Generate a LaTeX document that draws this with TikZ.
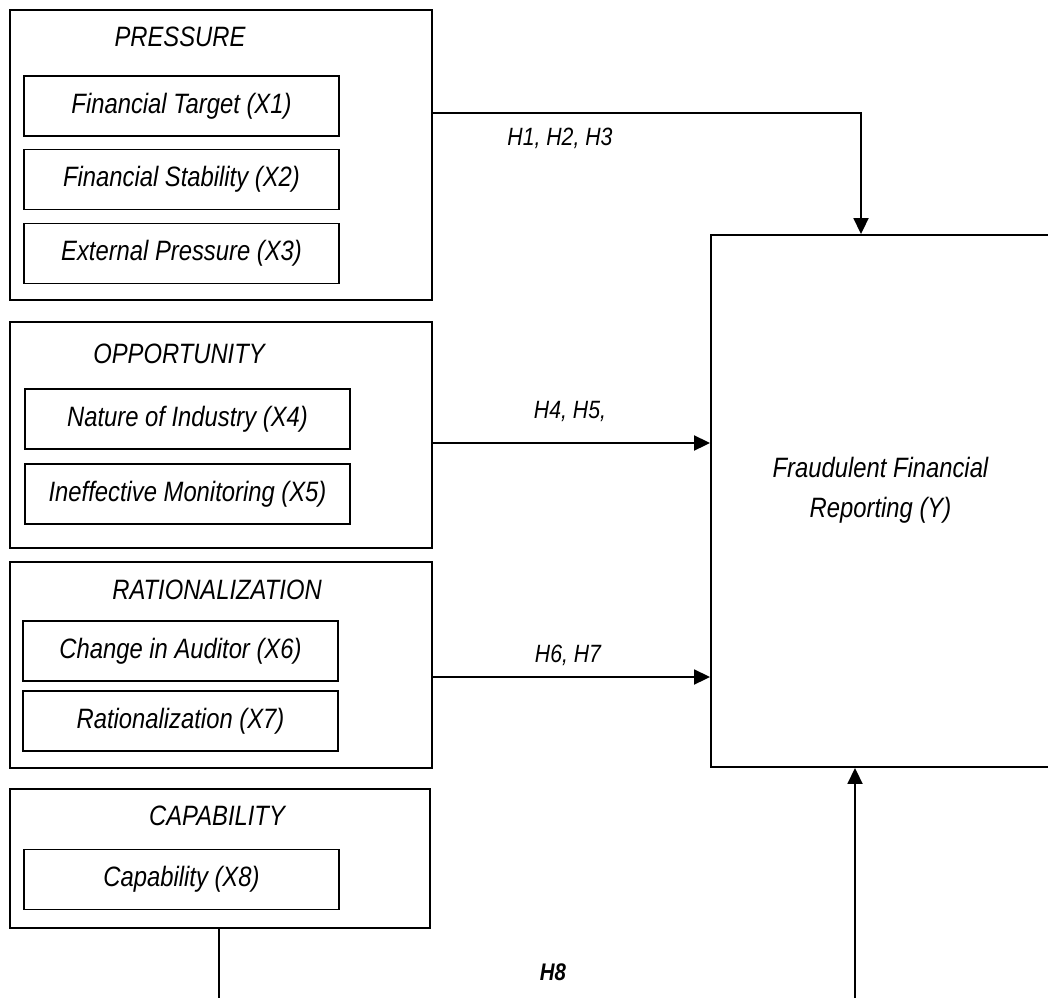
\documentclass[tikz,border=0pt]{standalone}
\usepackage{fontspec}
\setmainfont{Liberation Sans}[FakeStretch=0.85]
\usetikzlibrary{arrows.meta}
\tikzset{
  group/.style={draw,line width=1.9pt,inner sep=0pt},
  item/.style={draw,line width=1.9pt,inner sep=0pt,minimum width=315pt,minimum height=60pt,
    font=\fontsize{28}{32}\selectfont\itshape},
  title/.style={inner sep=0pt,font=\fontsize{28}{32}\selectfont\itshape},
  hyp/.style={inner sep=0pt,font=\fontsize{25}{29}\selectfont\itshape},
  flow/.style={line width=1.9pt,-{Triangle[length=16pt,width=15pt]}},
  link/.style={line width=1.9pt}
}
\begin{document}
\begin{tikzpicture}[x=1pt,y=-1pt]
\useasboundingbox (0,0) rectangle (1048,998);

\node[group,minimum width=422pt,minimum height=290pt] (press) at (221,155) {};
\node[title] (presst) at (180,37) {PRESSURE};
\node[item] (ft) at (181.5,106) {Financial Target (X1)};
\node[item] (fs) at (181.5,179.5) {Financial Stability (X2)};
\node[item] (ep) at (181.5,253.5) {External Pressure (X3)};

\node[group,minimum width=422pt,minimum height=226pt] (opp) at (221,435) {};
\node[title] (oppt) at (179,354) {OPPORTUNITY};
\node[item,minimum width=325pt] (ni) at (187.5,419) {Nature of Industry (X4)};
\node[item,minimum width=325pt] (im) at (187.5,494) {Ineffective Monitoring (X5)};

\node[group,minimum width=422pt,minimum height=206pt] (rat) at (221,665) {};
\node[title] (ratt) at (217,590) {RATIONALIZATION};
\node[item] (ca) at (180.5,651) {Change in Auditor (X6)};
\node[item] (rz) at (180.5,721) {Rationalization (X7)};

\node[group,minimum width=420pt,minimum height=139pt] (cap) at (220,858.5) {};
\node[title] (capt) at (217,816) {CAPABILITY};
\node[item] (cx) at (181.5,879.5) {Capability (X8)};

\node[group,minimum width=339pt,minimum height=532pt,align=center,text depth=28pt,
  font=\fontsize{28}{40}\selectfont\itshape] (fraud) at (880.5,501)
  {Fraudulent Financial\\Reporting (Y)};

\coordinate (capend) at (219,998);
\coordinate (fraudin) at (855,998);

\draw[flow] (press.east |- 0,113) -| (fraud.north -| 861,0);
\draw[flow] (opp.east |- 0,443) -- (fraud.west |- 0,443);
\draw[flow] (rat.east |- 0,677) -- (fraud.west |- 0,677);
\draw[link] (cap.south -| capend) -- (capend);
\draw[flow] (fraudin) -- (fraud.south -| fraudin);

\node[hyp] (h1) at (560,138) {H1, H2, H3};
\node[hyp] (h4) at (570,411) {H4, H5,};
\node[hyp] (h6) at (568,655) {H6, H7};
\node[hyp,font=\fontsize{24}{28}\selectfont\bfseries\itshape] (h8) at (553,972) {H8};
\end{tikzpicture}
\end{document}
